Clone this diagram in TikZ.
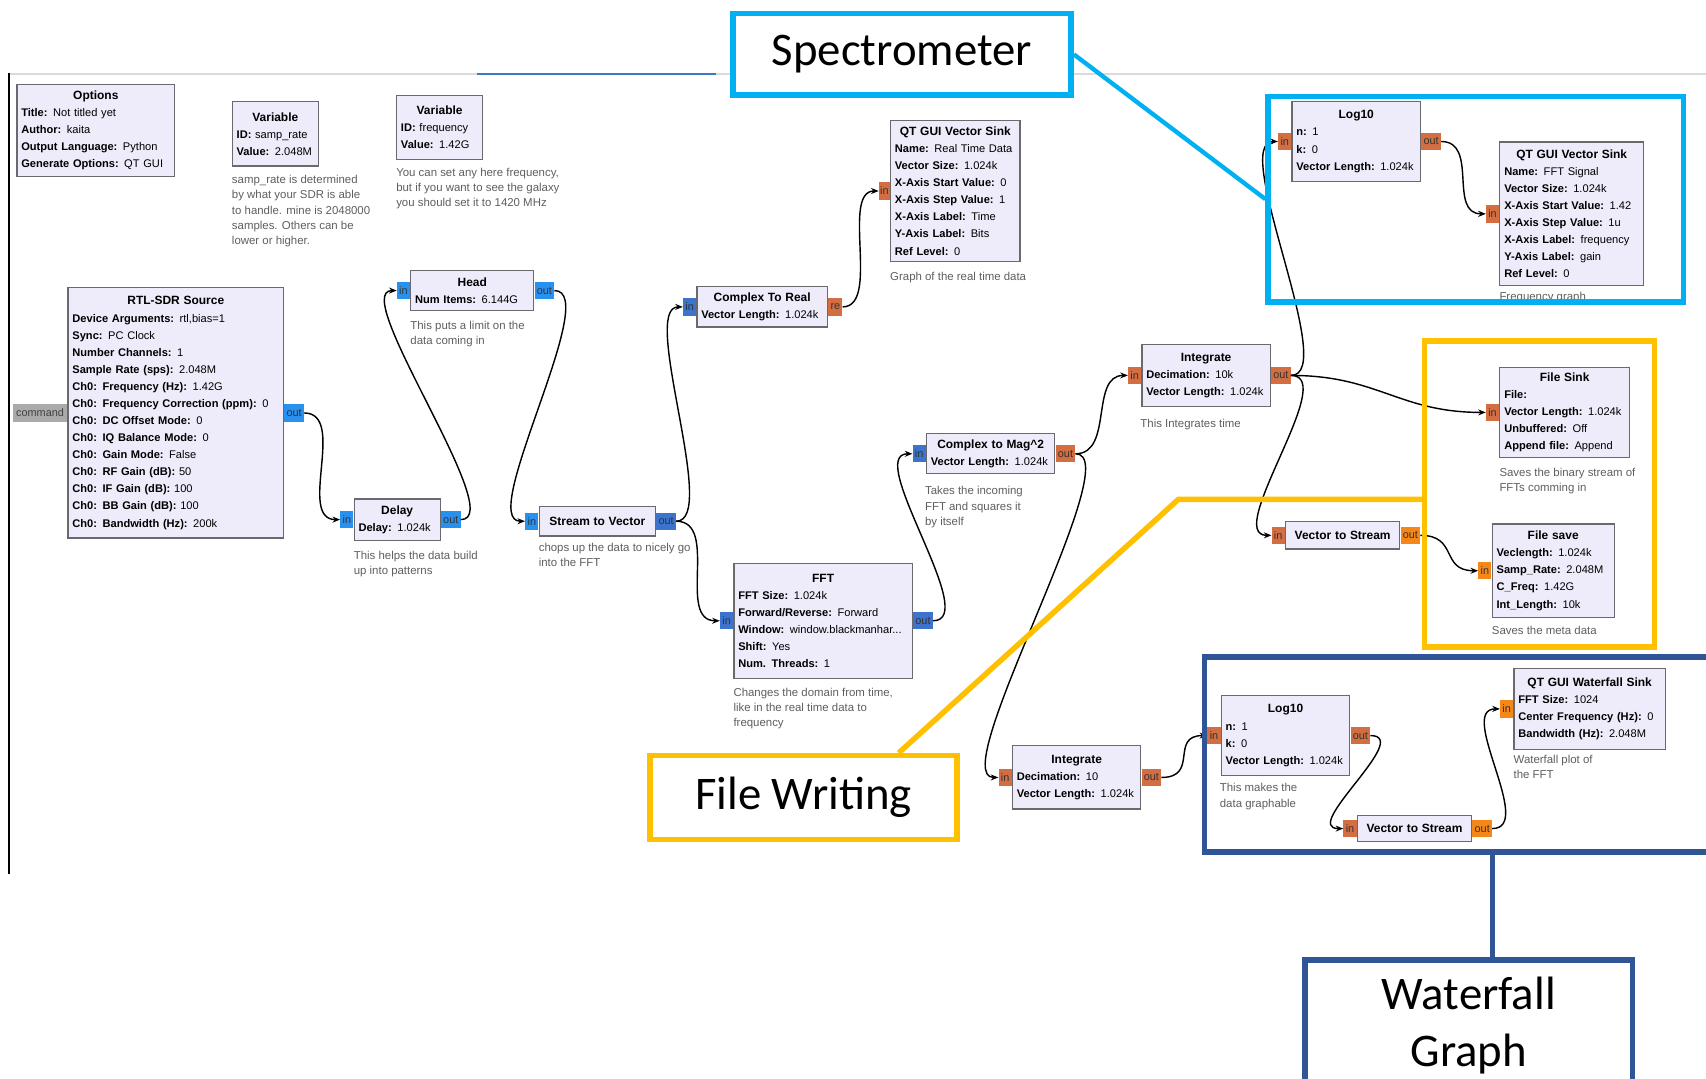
\documentclass[tikz,border=0pt]{standalone}
\usepackage{fontspec}
\setmainfont{Liberation Sans}
\newfontfamily\calfont{Carlito}
\usetikzlibrary{arrows.meta}
\definecolor{boxfill}{RGB}{238,236,250}
\definecolor{boxline}{RGB}{105,105,110}
\definecolor{cmtgrey}{RGB}{95,95,95}
\definecolor{pstream}{RGB}{40,145,240}
\definecolor{pvec}{RGB}{60,115,205}
\definecolor{ovec}{RGB}{210,110,65}
\definecolor{oflt}{RGB}{245,135,25}
\definecolor{cmdgrey}{RGB}{170,170,170}
\definecolor{cyanc}{RGB}{0,176,240}
\definecolor{yellc}{RGB}{255,192,0}
\definecolor{navyc}{RGB}{47,85,151}
\definecolor{topgrey}{RGB}{218,218,218}
\definecolor{tabblue}{RGB}{60,120,200}
\newcommand\grcblk[6]{\node[blk,minimum width=#4pt,minimum height=#5pt,text width=\dimexpr#4pt-8pt\relax] (#1) at (#2,#3) {#6};}
\newcommand\ttl[1]{\makebox[\linewidth]{\fontsize{11}{15.7}\selectfont\textbf{#1}}}
\newcommand\inp[3]{\node[port,fill=#3,anchor=east,minimum width=12pt] (#1) at (#2.west) {in};}
\newcommand\outp[4]{\node[port,fill=#3,anchor=west,minimum width=18pt] (#1) at (#2.east) {#4};}
\begin{document}
\begin{tikzpicture}[x=1pt,y=-1pt,
  blk/.style={draw=boxline,fill=boxfill,line width=1.1pt,anchor=north west,inner xsep=4pt,inner ysep=2pt,align=left,font=\fontsize{10.2}{15.7}\selectfont},
  port/.style={inner sep=0pt,minimum height=16pt,font=\fontsize{10}{10}\selectfont,text=black!80},
  cmt/.style={anchor=north west,inner sep=0pt,align=left,text=cmtgrey,font=\fontsize{10.5}{14}\selectfont},
  conn/.style={draw=black,line width=1.3pt,-{Stealth[length=7pt,width=5.5pt]}},
  lbl/.style={draw,line width=5pt,fill=white,anchor=north west,inner sep=0pt,align=center,font=\calfont\fontsize{43}{53}\selectfont},
  grp/.style={draw,line width=5pt,anchor=north west,inner sep=0pt}]
\useasboundingbox[fill=white] (0,0) rectangle (1568,991);
\clip (0,0) rectangle (1568,991);
% canvas frame
\draw[topgrey,line width=1.5pt] (8,68) -- (1568,68);
\draw[tabblue,line width=2.5pt] (438,68) -- (658,68);
\draw[black,line width=1.8pt] (8,67) -- (8,803);

% blocks
\grcblk{opt}{15}{77}{145}{85}{\ttl{Options}\\\textbf{Title:} Not titled yet\\\textbf{Author:} kaita\\\textbf{Output Language:} Python\\\textbf{Generate Options:} QT GUI}
\grcblk{var1}{213}{93}{79}{59}{\ttl{Variable}\\\textbf{ID:} samp\_rate\\\textbf{Value:} 2.048M}
\node[cmt] (var1c) at (213,161) {samp\_rate is determined\\by what your SDR is able\\to handle. mine is 2048000\\samples. Others can be\\lower or higher.};
\grcblk{var2}{364}{87}{79}{59}{\ttl{Variable}\\\textbf{ID:} frequency\\\textbf{Value:} 1.42G}
\node[cmt] (var2c) at (364,154) {You can set any here frequency,\\but if you want to see the galaxy\\you should set it to 1420 MHz};

\grcblk{rtl}{62}{264}{198}{230}{\ttl{RTL-SDR Source}\\\textbf{Device Arguments:} rtl,bias=1\\\textbf{Sync:} PC Clock\\\textbf{Number Channels:} 1\\\textbf{Sample Rate (sps):} 2.048M\\\textbf{Ch0: Frequency (Hz):} 1.42G\\\textbf{Ch0: Frequency Correction (ppm):} 0\\\textbf{Ch0: DC Offset Mode:} 0\\\textbf{Ch0: IQ Balance Mode:} 0\\\textbf{Ch0: Gain Mode:} False\\\textbf{Ch0: RF Gain (dB):} 50\\\textbf{Ch0: IF Gain (dB):} 100\\\textbf{Ch0: BB Gain (dB):} 100\\\textbf{Ch0: Bandwidth (Hz):} 200k}
\node[port,fill=cmdgrey,anchor=east,minimum width=50pt,text=black!75] (rtlcmd) at (rtl.west) {command};
\outp{rtlo}{rtl}{pstream}{out}

\grcblk{dly}{325}{458}{79}{38}{\ttl{Delay}\\\textbf{Delay:} 1.024k}
\inp{dlyi}{dly}{pstream}\outp{dlyo}{dly}{pstream}{out}
\node[cmt] (dlyc) at (325,506) {This helps the data build\\up into patterns};

\grcblk{hd}{377}{248}{113}{37}{\ttl{Head}\\\textbf{Num Items:} 6.144G}
\inp{hdi}{hd}{pstream}\outp{hdo}{hd}{pstream}{out}
\node[cmt] (hdc) at (377,295) {This puts a limit on the\\data coming in};

\grcblk{stv}{495}{465}{107}{27}{\ttl{Stream to Vector}}
\inp{stvi}{stv}{pstream}\outp{stvo}{stv}{pvec}{out}
\node[cmt] (stvc) at (495,499) {chops up the data to nicely go\\into the FFT};

\grcblk{ctr}{640}{263}{120}{37}{\ttl{Complex To Real}\\\textbf{Vector Length:} 1.024k}
\inp{ctri}{ctr}{pvec}
\node[port,fill=ovec,anchor=west,minimum width=13pt] (ctro) at (ctr.east) {re};

\grcblk{qtr}{818}{110}{119}{130}{\ttl{QT GUI Vector Sink}\\\textbf{Name:} Real Time Data\\\textbf{Vector Size:} 1.024k\\\textbf{X-Axis Start Value:} 0\\\textbf{X-Axis Step Value:} 1\\\textbf{X-Axis Label:} Time\\\textbf{Y-Axis Label:} Bits\\\textbf{Ref Level:} 0}
\node[port,fill=ovec,anchor=east,minimum width=10pt] (qtri) at (qtr.west) {in};
\node[cmt] (qtrc) at (818,250) {Graph of the real time data};

\grcblk{fft}{674}{517}{164}{106}{\ttl{FFT}\\\textbf{FFT Size:} 1.024k\\\textbf{Forward/Reverse:} Forward\\\textbf{Window:} window.blackmanhar...\\\textbf{Shift:} Yes\\\textbf{Num. Threads:} 1}
\inp{ffti}{fft}{pvec}\outp{ffto}{fft}{pvec}{out}
\node[cmt] (fftc) at (674,632) {Changes the domain from time,\\like in the real time data to\\frequency};

\grcblk{cm}{851}{398}{118}{37}{\ttl{Complex to Mag\textasciicircum2}\\\textbf{Vector Length:} 1.024k}
\inp{cmi}{cm}{pvec}\outp{cmo}{cm}{ovec}{out}
\node[cmt] (cmc) at (850,447) {Takes the incoming\\FFT and squares it\\by itself};

\grcblk{ia}{1049}{316}{118}{57}{\ttl{Integrate}\\\textbf{Decimation:} 10k\\\textbf{Vector Length:} 1.024k}
\inp{iai}{ia}{ovec}\outp{iao}{ia}{ovec}{out}
\node[cmt] (iac) at (1048,385) {This Integrates time};

\grcblk{ib}{930}{685}{118}{58}{\ttl{Integrate}\\\textbf{Decimation:} 10\\\textbf{Vector Length:} 1.024k}
\inp{ibi}{ib}{ovec}\outp{ibo}{ib}{ovec}{out}

\grcblk{la}{1187}{93}{118}{73}{\ttl{Log10}\\\textbf{n:} 1\\\textbf{k:} 0\\\textbf{Vector Length:} 1.024k}
\inp{lai}{la}{ovec}\outp{lao}{la}{ovec}{out}

\node[cmt] (qtfc) at (1378,268) {Frequency graph};
\grcblk{qtf}{1378}{130}{132}{132}{\ttl{QT GUI Vector Sink}\\\textbf{Name:} FFT Signal\\\textbf{Vector Size:} 1.024k\\\textbf{X-Axis Start Value:} 1.42\\\textbf{X-Axis Step Value:} 1u\\\textbf{X-Axis Label:} frequency\\\textbf{Y-Axis Label:} gain\\\textbf{Ref Level:} 0}
\inp{qtfi}{qtf}{ovec}

\grcblk{fsk}{1378}{337}{119}{83}{\ttl{File Sink}\\\textbf{File:}\\\textbf{Vector Length:} 1.024k\\\textbf{Unbuffered:} Off\\\textbf{Append file:} Append}
\inp{fski}{fsk}{ovec}
\node[cmt] (fskc) at (1378,430) {Saves the binary stream of\\FFTs comming in};

\grcblk{va}{1181}{479}{105}{25}{\ttl{Vector to Stream}}
\inp{vai}{va}{ovec}\outp{vao}{va}{oflt}{out}

\grcblk{fsv}{1371}{481}{112}{86}{\ttl{File save}\\\textbf{Veclength:} 1.024k\\\textbf{Samp\_Rate:} 2.048M\\\textbf{C\_Freq:} 1.42G\\\textbf{Int\_Length:} 10k}
\inp{fsvi}{fsv}{oflt}
\node[cmt] (fsvc) at (1371,575) {Saves the meta data};

\grcblk{lb}{1122}{639}{118}{73}{\ttl{Log10}\\\textbf{n:} 1\\\textbf{k:} 0\\\textbf{Vector Length:} 1.024k}
\inp{lbi}{lb}{ovec}\outp{lbo}{lb}{ovec}{out}
\node[cmt] (lbc) at (1121,720) {This makes the\\data graphable};

\grcblk{vb}{1247}{749}{105}{24}{\ttl{Vector to Stream}}
\inp{vbi}{vb}{ovec}\outp{vbo}{vb}{oflt}{out}

\grcblk{wf}{1391}{614}{139}{74}{\ttl{QT GUI Waterfall Sink}\\\textbf{FFT Size:} 1024\\\textbf{Center Frequency (Hz):} 0\\\textbf{Bandwidth (Hz):} 2.048M}
\inp{wfi}{wf}{oflt}
\node[cmt] (wfc) at (1391,694) {Waterfall plot of\\the FFT};

% connections
\draw[conn] (rtlo.east) .. controls +(40,0) and +(-40,0) .. (dlyi.west);
\draw[conn] (dlyo.east) .. controls +(45,0) and +(-45,0) .. (hdi.west);
\draw[conn] (hdo.east) .. controls +(45,0) and +(-45,0) .. (stvi.west);
\draw[conn] (stvo.east) .. controls +(40,0) and +(-40,0) .. (ctri.west);
\draw[conn] (stvo.east) .. controls +(40,0) and +(-40,0) .. (ffti.west);
\draw[conn] (ctro.east) .. controls +(35,0) and +(-35,0) .. (qtri.west);
\draw[conn] (ffto.east) .. controls +(45,0) and +(-45,0) .. (cmi.west);
\draw[conn] (cmo.east) .. controls +(35,0) and +(-35,0) .. (iai.west);
\draw[conn] (cmo.east) .. controls +(50,0) and +(-50,0) .. (ibi.west);
\draw[conn] (iao.east) .. controls +(45,0) and +(-45,0) .. (lai.west);
\draw[conn] (iao.east) .. controls +(80,0) and +(-80,0) .. (fski.west);
\draw[conn] (iao.east) .. controls +(45,0) and +(-45,0) .. (vai.west);
\draw[conn] (lao.east) .. controls +(35,0) and +(-35,0) .. (qtfi.west);
\draw[conn] (vao.east) .. controls +(35,0) and +(-35,0) .. (fsvi.west);
\draw[conn] (ibo.east) .. controls +(35,0) and +(-35,0) .. (lbi.west);
\draw[conn] (lbo.east) .. controls +(40,0) and +(-40,0) .. (vbi.west);
\draw[conn] (vbo.east) .. controls +(40,0) and +(-40,0) .. (wfi.west);

% callouts
\node[grp,draw=cyanc,minimum width=382pt,minimum height=189pt] (specg) at (1163,86) {};
\node[lbl,draw=cyanc,minimum width=311pt,minimum height=75pt] (specl) at (671,10) {Spectrometer};
\draw[cyanc,line width=4pt] (specl.east) -- (specg.west);

\node[grp,draw=yellc,minimum width=211pt,minimum height=281pt] (fwg) at (1307,311) {};
\node[lbl,draw=yellc,minimum width=282pt,minimum height=77pt] (fwl) at (595,692) {File Writing};
\coordinate (fwa) at (826,692);
\coordinate (fwb) at (1083,459);
\draw[yellc,line width=5pt] (fwa) -- (fwb) -- (fwb -| fwg.west);

\coordinate (wga) at (1580,604);
\coordinate (wgb) at (1107,604);
\coordinate (wgc) at (1107,783);
\coordinate (wgd) at (1580,783);
\draw[navyc,line width=5pt] (wga) -- (wgb) -- (wgc) -- (wgd);
\node[lbl,draw=navyc,minimum width=301pt,minimum height=120pt] (wfl) at (1197,880) {Waterfall\\Graph};
\coordinate (wgs) at (1372,783);
\draw[navyc,line width=5pt] (wgs) -- (wgs |- wfl.north);
\end{tikzpicture}
\end{document}
